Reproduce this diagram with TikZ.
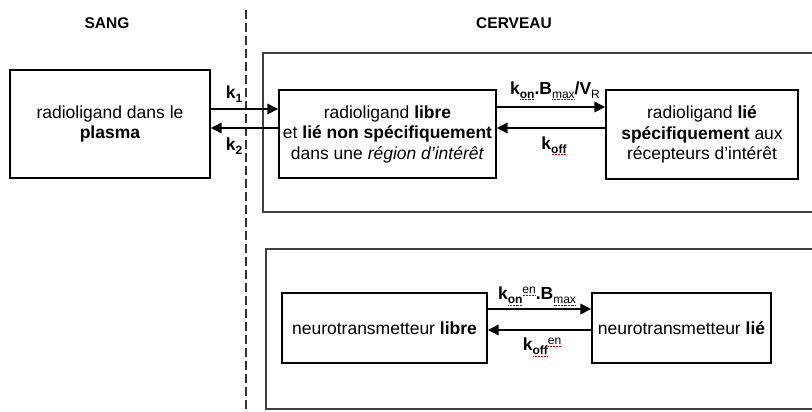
\documentclass[tikz,border=0pt]{standalone}
\usepackage{fontspec}
\setmainfont{Liberation Sans}
\usetikzlibrary{arrows.meta,calc}
\newcommand\squig[1]{\setbox0\hbox{#1}\rlap{\raisebox{-1.8pt}{\textcolor{red!80!black}{\hbox to \wd0{\xleaders\hbox to 1.4pt{\hss\rule{0.7pt}{0.6pt}\hss}\hfill}}}}\box0}
\newcommand\lo[1]{\raisebox{-3.5pt}{\fontsize{12}{12}\selectfont #1}}
\newcommand\hi[1]{\raisebox{6.5pt}{\fontsize{12}{12}\selectfont #1}}
\tikzset{
  box/.style={draw, line width=1.1pt, align=center, inner sep=0pt, font=\fontsize{17.5}{20.5}\selectfont},
  head/.style={font=\fontsize{15.5}{18}\selectfont\bfseries, inner sep=0pt},
  lab/.style={font=\fontsize{17.5}{20}\selectfont, inner sep=0pt},
  arr/.style={line width=2.6pt, -{Triangle[length=11pt,width=10pt]}},
  outer/.style={line width=1.6pt, black!75},
  sep/.style={line width=1.1pt, dash pattern=on 9pt off 4pt, black!80}
}
\begin{document}
\begin{tikzpicture}[x=1pt,y=-1pt]
\clip (0,0) rectangle (812,412);
\fill[white] (0,0) rectangle (812,412);
% separator
\coordinate (dtop) at (246,10);
\coordinate (dbot) at (246,412);
\draw[sep] (dtop) -- (dbot);
% outer compartments
\draw[outer] (263,53) rectangle (830,212);
\draw[outer] (266,249) rectangle (830,409);
% headings
\node[head] (sang) at (107,23) {SANG};
\node[head] (cerveau) at (514,23) {CERVEAU};
% boxes
\node[box, minimum width=200pt, minimum height=108pt] (plasma) at (110,124)
  {radioligand dans le\\\textbf{plasma}};
\node[box, minimum width=217pt, minimum height=88pt] (free) at (387.5,134)
  {radioligand \textbf{libre}\\et \textbf{lié non spécifiquement}\\dans une \textit{région d’intérêt}};
\node[box, minimum width=192pt, minimum height=89pt] (bound) at (702,134.5)
  {radioligand \textbf{lié}\\\textbf{spécifiquement} aux\\récepteurs d’intérêt};
\node[box, minimum width=205pt, minimum height=70pt] (ntl) at (384.5,328)
  {neurotransmetteur \textbf{libre}};
\node[box, minimum width=179pt, minimum height=70pt] (ntb) at (681.5,328)
  {neurotransmetteur \textbf{lié}};
% arrows
\draw[arr] ($(plasma.east)+(0,-15)$) -- ($(free.west)+(0,-25)$);
\draw[arr] ($(free.west)+(0,-6)$) -- ($(plasma.east)+(0,4)$);
\draw[arr] ($(free.east)+(0,-27)$) -- ($(bound.west)+(0,-27.5)$);
\draw[arr] ($(bound.west)+(0,-6.5)$) -- ($(free.east)+(0,-6)$);
\draw[arr] ($(ntl.east)+(0,-19)$) -- ($(ntb.west)+(0,-19)$);
\draw[arr] ($(ntb.west)+(0,2)$) -- ($(ntl.east)+(0,2)$);
% labels
\node[lab] (k1) at (234,94) {\textbf{k}\lo{\textbf{1}}};
\node[lab] (k2) at (234,146) {\textbf{k}\lo{\textbf{2}}};
\node[lab] (kon) at (555,91) {\textbf{k}\lo{\squig{\textbf{on}}}\textbf{.B}\lo{\squig{max}}\textbf{/V}\lo{R}};
\node[lab] (koff) at (554,146) {\textbf{k}\lo{\squig{\textbf{off}}}};
\node[lab] (konen) at (537,296) {\textbf{k}\lo{\squig{\textbf{on}}}\hi{\squig{en}}\textbf{.B}\lo{\squig{max}}};
\node[lab] (koffen) at (542,347) {\textbf{k}\lo{\squig{\textbf{off}}}\hi{\squig{en}}};
\end{tikzpicture}
\end{document}
